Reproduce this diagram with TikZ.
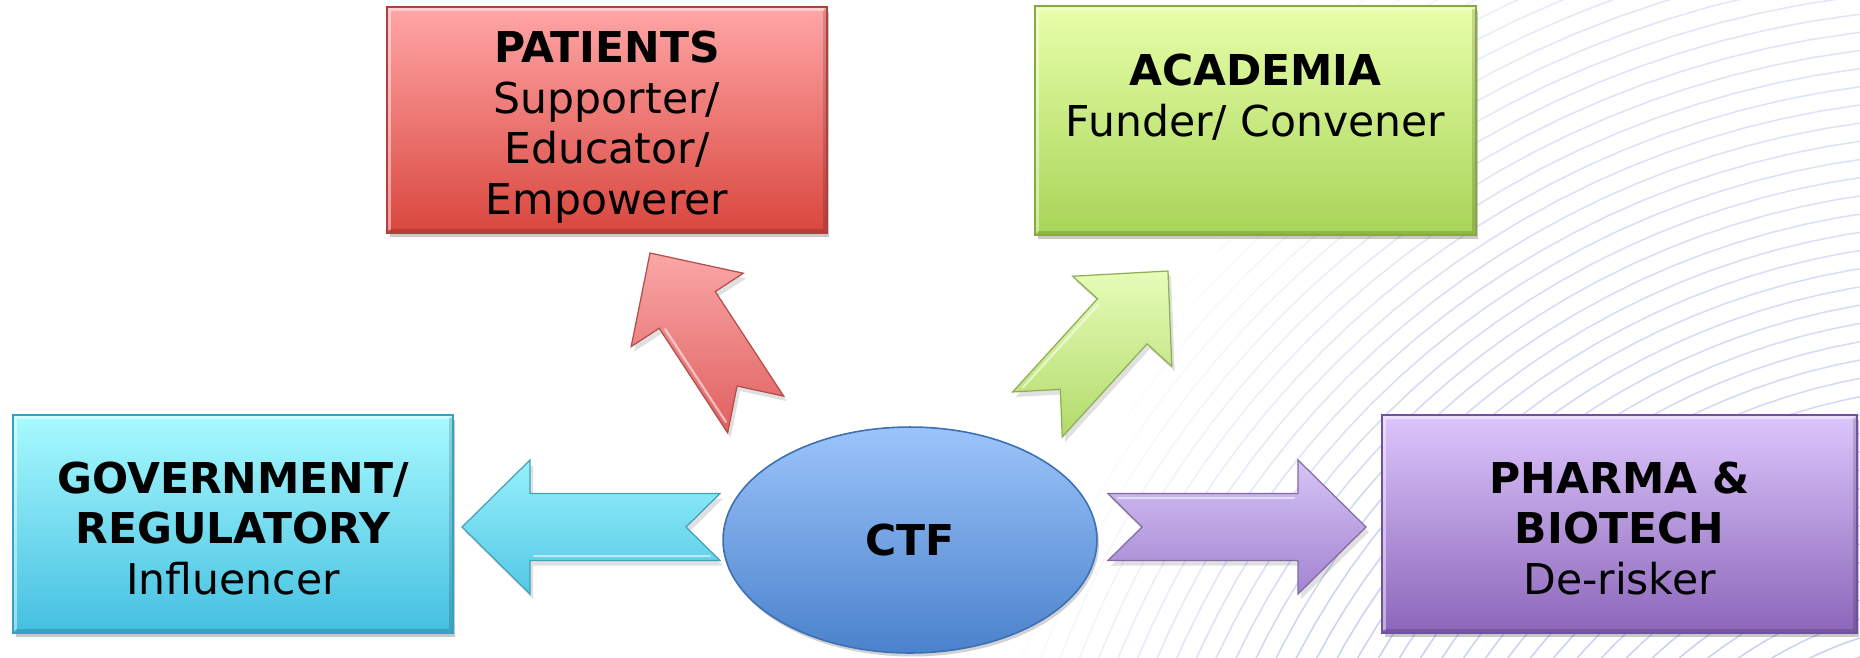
\documentclass[tikz,border=0pt]{standalone}
\usepackage{fontspec}
\setmainfont{DejaVu Sans}
\usetikzlibrary{shadows,shapes.geometric}

\definecolor{bgline}{RGB}{200,209,243}
\definecolor{patTop}{RGB}{255,166,166}
\definecolor{patBot}{RGB}{217,71,63}
\definecolor{patLine}{RGB}{176,64,60}
\definecolor{acaTop}{RGB}{232,255,170}
\definecolor{acaBot}{RGB}{168,212,88}
\definecolor{acaLine}{RGB}{132,170,64}
\definecolor{govTop}{RGB}{168,250,255}
\definecolor{govBot}{RGB}{68,191,224}
\definecolor{govLine}{RGB}{56,160,192}
\definecolor{phaTop}{RGB}{220,198,252}
\definecolor{phaBot}{RGB}{140,102,186}
\definecolor{phaLine}{RGB}{112,80,160}
\definecolor{ctfTop}{RGB}{156,196,250}
\definecolor{ctfBot}{RGB}{74,130,204}
\definecolor{ctfLine}{RGB}{60,112,180}
\definecolor{arRedTop}{RGB}{250,166,166}
\definecolor{arRedBot}{RGB}{224,96,96}
\definecolor{arGrnTop}{RGB}{230,252,184}
\definecolor{arGrnBot}{RGB}{178,218,106}
\definecolor{arCyaTop}{RGB}{150,240,252}
\definecolor{arCyaBot}{RGB}{84,200,228}
\definecolor{arPurTop}{RGB}{214,196,246}
\definecolor{arPurBot}{RGB}{162,132,208}

\tikzset{
  stakeholder/.style={rectangle, align=center, inner sep=0pt, line width=0.9pt,
    drop shadow={shadow xshift=0.05cm, shadow yshift=-0.09cm, opacity=0.3, fill=black!70},
    path picture={
      \draw[white, opacity=0.45, line width=1.6pt]
        ([xshift=1.5pt,yshift=1.5pt]path picture bounding box.south west)
        -- ([xshift=1.5pt,yshift=-1.5pt]path picture bounding box.north west)
        -- ([xshift=-1.5pt,yshift=-1.5pt]path picture bounding box.north east);
      \draw[black, opacity=0.15, line width=1.6pt]
        ([xshift=-1.5pt,yshift=-1.5pt]path picture bounding box.north east)
        -- ([xshift=-1.5pt,yshift=1.5pt]path picture bounding box.south east)
        -- ([xshift=1.5pt,yshift=1.5pt]path picture bounding box.south west);
    }},
  hubshape/.style={ellipse, inner sep=0pt, line width=0.9pt,
    drop shadow={shadow xshift=0.04cm, shadow yshift=-0.07cm, opacity=0.25, fill=black!70}},
  blockarrow/.style={line width=0.7pt, line join=miter},
}

% #1 name, #2 tip, #3 angle, #4 length, #5 top colour, #6 bottom colour
\newcommand\notcharrow[6]{%
  \begin{scope}[shift={(3,5)}]
    \begin{scope}[shift={#2}, rotate=#3]
      \path[fill=black, opacity=0.12] (0,0) -- (-68,-67) -- (-68,-33.5) -- (-#4,-33.5) -- (-#4+34,0)
        -- (-#4,33.5) -- (-68,33.5) -- (-68,67) -- cycle;
    \end{scope}
  \end{scope}
  \begin{scope}[shift={#2}, rotate=#3]
    \coordinate (#1) at (0,0);
    \path[blockarrow, top color=#5, bottom color=#6, draw=#6!80!black]
      (0,0) -- (-68,-67) -- (-68,-33.5) -- (-#4,-33.5) -- (-#4+34,0)
      -- (-#4,33.5) -- (-68,33.5) -- (-68,67) -- cycle;
    \draw[white, opacity=0.55, line width=1.3pt, line cap=round]
      (-72,-29) -- (-#4+10,-29);
  \end{scope}}

\begin{document}
\begin{tikzpicture}[x=0.02cm, y=-0.02cm, font=\fontsize{24.2}{28.85}\selectfont]
\useasboundingbox (0,0) rectangle (1860,657);
\fill[white] (0,0) rectangle (1860,657);

% background arcs
\begin{scope}
  \clip (0,0) rectangle (1860,657);
  \foreach \rad in {373,391,...,1417}{
    \foreach \ang in {185,187.5,...,272.5}{
      \pgfmathsetmacro\xa{1980+\rad*cos(\ang)}
      \pgfmathsetmacro\ya{1010+\rad*sin(\ang)}
      \pgfmathsetmacro\xb{1980+\rad*cos(\ang+2.5)}
      \pgfmathsetmacro\yb{1010+\rad*sin(\ang+2.5)}
      \pgfmathtruncatemacro\fadeval{max(0,min(100,((\xa+\xb)/2-1000-0.45*(657-(\ya+\yb)/2))/3)*(0.55+0.45*(\ya+\yb)/1314))}
      \ifnum\fadeval>0
        \draw[bgline!\fadeval!white, line width=0.85pt, line cap=round] (\xa,\ya) -- (\xb,\yb);
      \fi
    }
  }
\end{scope}

% block arrows
\notcharrow{tipGov}{(462,527)}{180}{258}{arCyaTop}{arCyaBot}
\notcharrow{tipPha}{(1366,527)}{0}{258}{arPurTop}{arPurBot}
\notcharrow{tipPat}{(650,253)}{123.2}{193}{arRedTop}{arRedBot}
\notcharrow{tipAca}{(1168,271)}{47.7}{194}{arGrnTop}{arGrnBot}

% hub
\node[hubshape, top color=ctfTop, bottom color=ctfBot, draw=ctfLine,
      minimum width=7.48cm, minimum height=4.52cm] (ctf) at (910,540) {\textbf{CTF}};

% stakeholder boxes
\node[stakeholder, top color=patTop, bottom color=patBot, draw=patLine,
      minimum width=8.8cm, minimum height=4.52cm] (patients) at (607,120)
      {\rule{0pt}{26.2pt}\textbf{PATIENTS}\\Supporter/\\Educator/\\Empowerer};
\node[stakeholder, top color=acaTop, bottom color=acaBot, draw=acaLine,
      minimum width=8.82cm, minimum height=4.57cm] (academia) at (1255.5,120.5)
      {\textbf{ACADEMIA}\\Funder/ Convener\\\mbox{}};
\node[stakeholder, top color=govTop, bottom color=govBot, draw=govLine,
      minimum width=8.8cm, minimum height=4.36cm] (government) at (233,524)
      {\rule{0pt}{22.8pt}\textbf{GOVERNMENT/}\\\textbf{REGULATORY}\\Influencer};
\node[stakeholder, top color=phaTop, bottom color=phaBot, draw=phaLine,
      minimum width=9.5cm, minimum height=4.36cm] (pharma) at (1619.5,524)
      {\rule{0pt}{22.8pt}\textbf{PHARMA \&}\\\textbf{BIOTECH}\\De-risker};
\end{tikzpicture}
\end{document}
